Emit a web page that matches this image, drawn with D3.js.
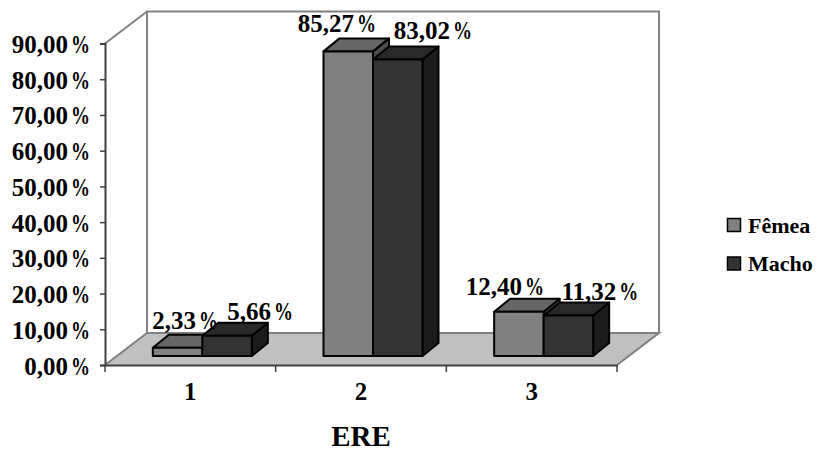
<!DOCTYPE html>
<html><head><meta charset="utf-8">
<script src="https://cdn.jsdelivr.net/npm/d3@7"></script>
<style>html,body{margin:0;padding:0;background:#fff}svg{display:block}
text{font-family:"Liberation Serif",serif;font-weight:bold;fill:#000}</style></head>
<body><svg id="c" width="817" height="451"></svg>
<script>
const categories = ["1","2","3"];
const seriesNames = ["Fêmea","Macho"];
const femea = [2.33,85.27,12.40];
const macho = [5.66,83.02,11.32];
const yTicks = [0,10,20,30,40,50,60,70,80,90];
const axisTitle = "ERE";

const svg = d3.select("#c");
const x0 = 105, x1 = 617, yBase = 365, yTop = 43.5;
const wallDx = 42, wallDy = -32;
const barOffDx = 12, barOffDy = -9;
const barDx = 16, barDy = -13;
const x = d3.scaleBand().domain(categories).range([x0,x1]);
const y = d3.scaleLinear().domain([0,90]).range([yBase,yTop]);
const barW = 49.5;
const fmt = v => d3.format(".2f")(v).replace(".",",");

const fills = [
  {front:"#808080",top:"#666666",side:"#4d4d4d"},
  {front:"#333333",top:"#292929",side:"#1c1c1c"}
];

const poly = (pts,a) => svg.append("polygon").attr("points",pts.map(p=>p.join(",")).join(" ")).attr("fill",a.fill||"none").attr("stroke",a.stroke||"none").attr("stroke-width",a.sw||1).attr("stroke-linejoin","round");
poly([[x0,yBase],[x0+wallDx,yBase+wallDy],[x1+wallDx,yBase+wallDy],[x1,yBase]],{fill:"#c0c0c0"});
svg.append("path").attr("fill","none").attr("stroke","#808080").attr("stroke-width",2)
  .attr("d",`M${x0},${yBase}L${x0+wallDx},${yBase+wallDy}L${x1+wallDx},${yBase+wallDy}L${x1},${yBase}
   M${x0+wallDx},${yBase+wallDy}V${yTop+wallDy}H${x1+wallDx}V${yBase+wallDy}M${x0},${yTop}L${x0+wallDx},${yTop+wallDy}`);

const gy = svg.append("g").attr("transform",`translate(${x0},0)`)
  .call(d3.axisLeft(y).tickValues(yTicks).tickSize(5).tickPadding(2).tickFormat(()=>""));
const gx = svg.append("g").attr("transform",`translate(0,${yBase})`)
  .call(d3.axisBottom(x).tickSize(0).tickFormat(()=>""));
svg.selectAll(".domain").attr("stroke","#404040").attr("stroke-width",2);
svg.selectAll(".tick line").attr("stroke","#404040").attr("stroke-width",1.5);
categories.concat(["end"]).forEach((c,i)=>{
  const px = x0 + i*x.step();
  gx.append("line").attr("x1",px).attr("x2",px).attr("y1",0).attr("y2",7).attr("stroke","#404040").attr("stroke-width",1.5);
});
gy.selectAll(".tick text").remove();

function pct(sel,str){
  sel.text(null);
  sel.append("tspan").text(str);
  sel.append("tspan").attr("dx",3).attr("textLength",19).attr("lengthAdjust","spacingAndGlyphs").text("%");
}
yTicks.forEach(t=>{
  svg.append("text").attr("x",90).attr("y",y(t)+9.5).attr("text-anchor","end")
    .attr("font-size",25).call(pct,fmt(t));
});
categories.forEach(c=>{
  svg.append("text").attr("x",x(c)+x.bandwidth()/2).attr("y",400).attr("text-anchor","middle")
    .attr("font-size",25).text(c);
});
svg.append("text").attr("x",361).attr("y",446).attr("text-anchor","middle").attr("font-size",29).text(axisTitle);

const yb = v => y(v)+barOffDy;
[femea,macho].forEach((vals,s)=>{
  categories.forEach((c,i)=>{
    const v = vals[i];
    const l = x(c)+x.bandwidth()/2+barOffDx + (s-1)*barW, r = l+barW;
    const b = yBase+barOffDy, t = yb(v);
    const st = {stroke:"#000",sw:2};
    poly([[r,b],[r+barDx,b+barDy],[r+barDx,t+barDy],[r,t]],{fill:fills[s].side,...st});
    poly([[l,t],[l+barDx,t+barDy],[r+barDx,t+barDy],[r,t]],{fill:fills[s].top,...st});
    poly([[l,b],[r,b],[r,t],[l,t]],{fill:fills[s].front,...st});
  });
});

const labelShift = [[[7.5,-6],[33,-3]],[[-11.5,-6],[35,-7]],[[-14,-4],[31.5,-3]]];
[femea,macho].forEach((vals,s)=>{
  categories.forEach((c,i)=>{
    const v = vals[i];
    const l = x(c)+x.bandwidth()/2+barOffDx + (s-1)*barW;
    const [dx,dy] = labelShift[i][s];
    svg.append("text").attr("x",l+barW/2+dx).attr("y",yb(v)+barDy+dy).attr("text-anchor","middle")
      .attr("font-size",25).call(pct,fmt(v));
  });
});

seriesNames.forEach((n,i)=>{
  svg.append("rect").attr("x",727.5).attr("y",218.5+i*38.5).attr("width",13).attr("height",13)
    .attr("fill",fills[i].front).attr("stroke","#000").attr("stroke-width",1.5);
  svg.append("text").attr("x",748).attr("y",233+i*38).attr("font-size",22).text(n);
});
</script></body></html>
